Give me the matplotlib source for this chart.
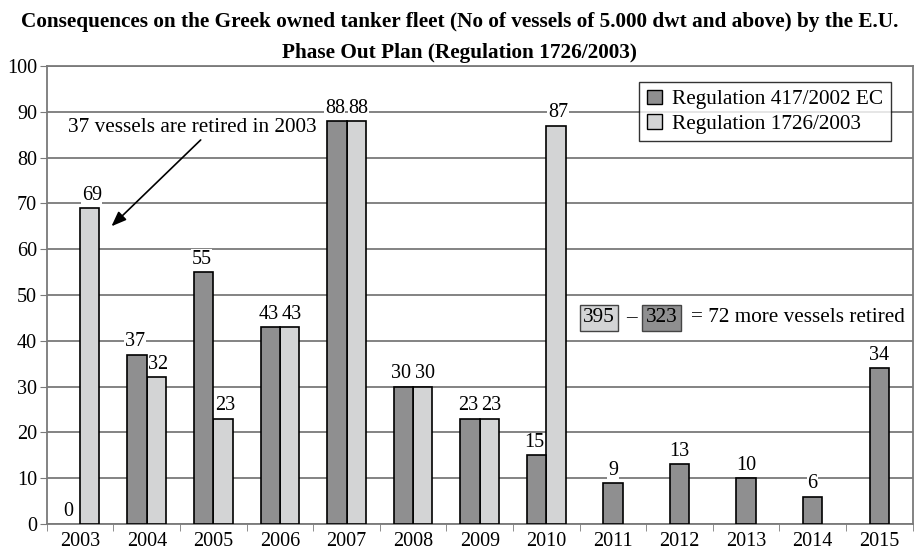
import numpy as np
import matplotlib.pyplot as plt

plt.rcParams['font.family'] = ['Liberation Serif', 'DejaVu Serif']

# data
years = ['2003', '2004', '2005', '2006', '2007', '2008', '2009', '2010',
         '2011', '2012', '2013', '2014', '2015']
reg_417 = [0, 37, 55, 43, 88, 30, 23, 15, 9, 13, 10, 6, 34]
reg_1726 = [69, 32, 23, 43, 88, 30, 23, 87, None, None, None, None, None]
total_1726 = 395
total_417 = 323
diff_text = '= 72 more vessels retired'

DARK = '#8f8f90'
LIGHT = '#d3d4d5'
GRID = '#7a7a7a'

fig = plt.figure(figsize=(9.19, 5.51), dpi=100)
ax = fig.add_axes([0.051, 0.049, 0.942, 0.831])

x = np.arange(len(years))
w = 0.29
for i in range(len(years)):
    if reg_1726[i] is None:
        xd = x[i]
    else:
        xd = x[i] - w / 2
        ax.bar(x[i] + w / 2, reg_1726[i], w, color=LIGHT, edgecolor='black',
               linewidth=1.2, zorder=3)
    if reg_417[i] > 0:
        ax.bar(xd, reg_417[i], w, color=DARK, edgecolor='black',
               linewidth=1.2, zorder=3)

# value labels
lbl = dict(fontsize=14.5, ha='center', va='bottom', zorder=4,
           bbox=dict(facecolor='white', edgecolor='none', pad=0.5))
for i in range(len(years)):
    if reg_1726[i] is None:
        ax.text(x[i], reg_417[i] + 0.7, str(reg_417[i]), **lbl)
    else:
        ax.text(x[i] - w / 2 - 0.03, reg_417[i] + 0.7, str(reg_417[i]), **lbl)
        ax.text(x[i] + w / 2 + 0.03, reg_1726[i] + 0.7, str(reg_1726[i]), **lbl)

ax.set_xlim(-0.5, len(years) - 0.5)
ax.set_ylim(0, 100)
ax.set_yticks(range(0, 101, 10))
ax.set_xticks(x)
ax.set_xticklabels(years)
ax.set_xticks(np.arange(-0.5, len(years)), minor=True)
ax.tick_params(axis='x', which='major', length=0, labelsize=14.5, pad=6)
ax.tick_params(axis='x', which='minor', length=5, color=GRID, direction='out')
ax.tick_params(axis='y', labelsize=14.5, length=5, color=GRID, pad=2)
ax.yaxis.grid(True, color=GRID, linewidth=1.3, zorder=0)
ax.set_axisbelow(True)
for s in ax.spines.values():
    s.set_color(GRID)
    s.set_linewidth(1.3)

fig.text(0.5, 0.978, 'Consequences on the Greek owned tanker fleet (No of vessels of 5.000 dwt and above) by the E.U.\nPhase Out Plan (Regulation 1726/2003)',
         ha='center', va='top', fontsize=15.3, fontweight='bold', linespacing=1.7)

# legend
h1 = plt.Rectangle((0, 0), 1, 1, facecolor=DARK, edgecolor='black', linewidth=1)
h2 = plt.Rectangle((0, 0), 1, 1, facecolor=LIGHT, edgecolor='black', linewidth=1)
leg = ax.legend([h1, h2], ['Regulation 417/2002 EC', 'Regulation 1726/2003'],
                loc='upper right', bbox_to_anchor=(0.975, 0.965), fontsize=15.3,
                frameon=True, fancybox=False, edgecolor='black',
                handlelength=0.7, handleheight=0.7, handletextpad=0.5,
                borderpad=0.35, labelspacing=0.2, borderaxespad=0)
leg.get_frame().set_linewidth(1)

# annotation arrow
ax.annotate('', xy=(0.44, 64.6), xytext=(1.84, 84.3),
            arrowprops=dict(arrowstyle='-|>,head_length=0.9,head_width=0.35',
                            color='black', lw=1.2), zorder=5)
ax.text(1.68, 86.6, '37 vessels are retired in 2003', fontsize=15.3,
        ha='center', va='center', zorder=5,
        bbox=dict(facecolor='white', edgecolor='none', pad=1))

# totals box
yb = 45.0
ax.text(7.79, yb, str(total_1726), fontsize=15.3, ha='center', va='center',
        bbox=dict(facecolor=LIGHT, edgecolor='#444444', pad=2.5, linewidth=1), zorder=5)
ax.text(8.28, yb, '\u2013', fontsize=15.3, ha='center', va='center', zorder=5,
        bbox=dict(facecolor='white', edgecolor='none', pad=2))
ax.text(8.73, yb, str(total_417), fontsize=15.3, ha='center', va='center',
        bbox=dict(facecolor=DARK, edgecolor='#444444', pad=2.5, linewidth=1), zorder=5)
ax.text(9.17, yb, diff_text, fontsize=15.3, ha='left', va='center', zorder=5,
        bbox=dict(facecolor='white', edgecolor='none', pad=1))

fig.savefig('out.png', dpi=100)
